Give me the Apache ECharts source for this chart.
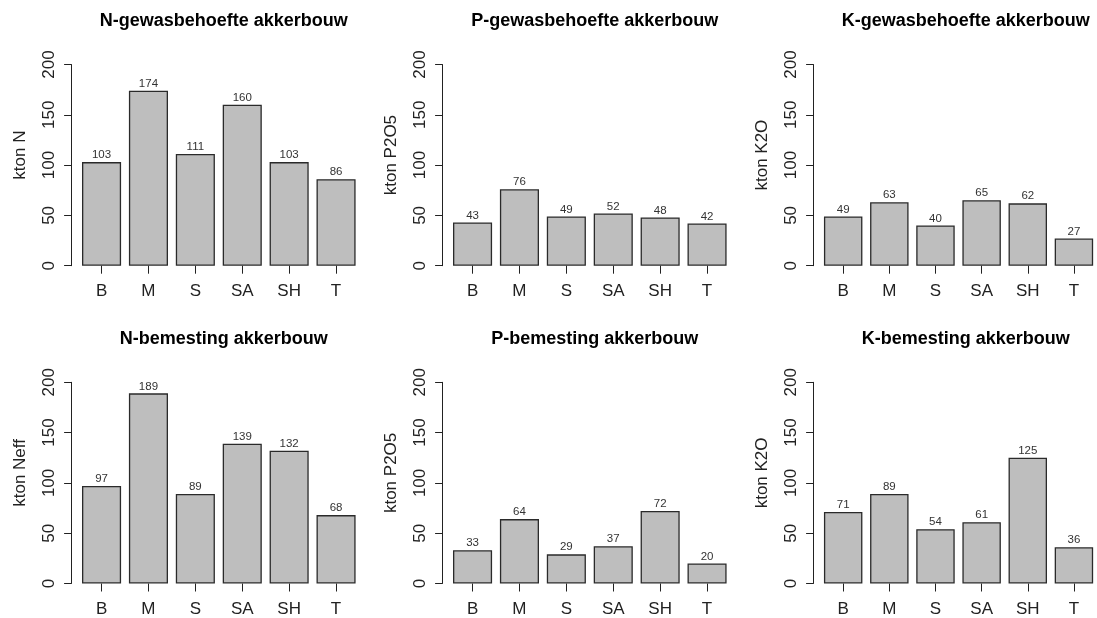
<!DOCTYPE html>
<html>
<head>
<meta charset="utf-8">
<script src="https://cdn.jsdelivr.net/npm/echarts@6/dist/echarts.min.js"></script>
<style>
  html, body { margin: 0; padding: 0; background: #ffffff; }
  #chart { width: 1097px; height: 618px; }
</style>
</head>
<body>
<div id="chart"></div>
<script>
// Regions (categories) shared by all six panels
const regions = ['B', 'M', 'S', 'SA', 'SH', 'T'];

// Crop requirement (gewasbehoefte), kton
const nNeed = [103, 174, 111, 160, 103, 86];
const pNeed = [43, 76, 49, 52, 48, 42];
const kNeed = [49, 63, 40, 65, 62, 27];

// Fertilisation (bemesting), kton
const nFert = [97, 189, 89, 139, 132, 68];
const pFert = [33, 64, 29, 37, 72, 20];
const kFert = [71, 89, 54, 61, 125, 36];

// Value axis ticks
const yTicks = [0, 50, 100, 150, 200];

const panels = [
  { title: 'N-gewasbehoefte akkerbouw', unit: 'kton N',    data: nNeed },
  { title: 'P-gewasbehoefte akkerbouw', unit: 'kton P2O5', data: pNeed },
  { title: 'K-gewasbehoefte akkerbouw', unit: 'kton K2O',  data: kNeed },
  { title: 'N-bemesting akkerbouw',     unit: 'kton Neff', data: nFert },
  { title: 'P-bemesting akkerbouw',     unit: 'kton P2O5', data: pFert },
  { title: 'K-bemesting akkerbouw',     unit: 'kton K2O',  data: kFert }
];

const FONT = '"Liberation Sans", Arial, sans-serif';
const colLeft = [78.1, 449.1, 820.1];
const rowTop = [64.5, 382.3];
const gridW = 281.4;
const gridH = 201.2;

const grids = [], xAxes = [], yAxes = [], series = [], titles = [];

panels.forEach((p, i) => {
  const c = i % 3, r = Math.floor(i / 3);
  const left = colLeft[c], top = rowTop[r];
  grids.push({ left: left, top: top, width: gridW, height: gridH, containLabel: false });
  titles.push({
    text: p.title,
    left: left + gridW / 2,
    top: r === 0 ? 7 : 325,
    textAlign: 'center',
    textStyle: { fontFamily: FONT, fontSize: 18, fontWeight: 'bold', color: '#000' }
  });
  xAxes.push({
    type: 'category',
    gridIndex: i,
    data: regions,
    axisLine: { show: false },
    axisTick: { show: true, alignWithLabel: true, length: 8, lineStyle: { color: '#222', width: 1 } },
    axisLabel: { margin: 17, fontFamily: FONT, fontSize: 17, color: '#222' },
    splitLine: { show: false }
  });
  yAxes.push({
    type: 'value',
    gridIndex: i,
    min: yTicks[0],
    max: yTicks[yTicks.length - 1],
    interval: yTicks[1] - yTicks[0],
    offset: 7,
    name: p.unit,
    nameLocation: 'middle',
    nameRotate: 90,
    nameGap: 42,
    nameTextStyle: { fontFamily: FONT, fontSize: 17, color: '#222', padding: [0, 0, 0, 20] },
    axisLine: { show: true, lineStyle: { color: '#222', width: 1 } },
    axisTick: { show: true, length: 7, lineStyle: { color: '#222', width: 1 } },
    axisLabel: { rotate: 90, margin: 13, fontFamily: FONT, fontSize: 17, color: '#222' },
    splitLine: { show: false }
  });
  series.push({
    type: 'bar',
    xAxisIndex: i,
    yAxisIndex: i,
    data: p.data,
    barCategoryGap: '16.67%',
    itemStyle: { color: '#bebebe', borderColor: '#2a2a2a', borderWidth: 1.3 },
    label: {
      show: true, position: 'top', distance: 1,
      fontFamily: FONT, fontSize: 11.5, color: '#333'
    },
    emphasis: { disabled: true },
    animation: false
  });
});

const chart = echarts.init(document.getElementById('chart'), null, { renderer: 'canvas' });
chart.setOption({
  backgroundColor: '#ffffff',
  animation: false,
  title: titles,
  grid: grids,
  xAxis: xAxes,
  yAxis: yAxes,
  series: series
});
</script>
</body>
</html>
